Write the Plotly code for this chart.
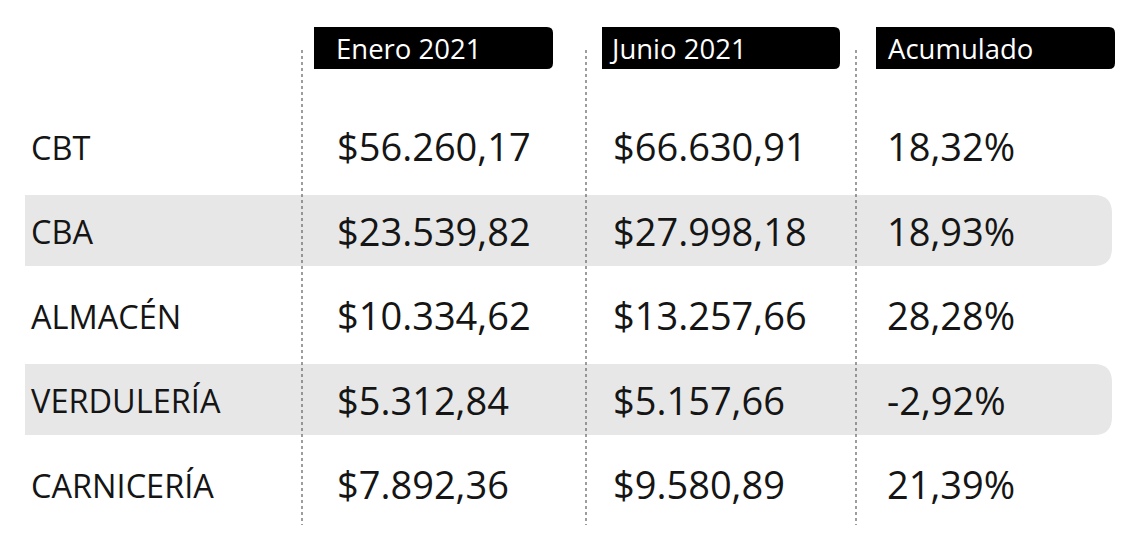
import plotly.graph_objects as go

# ---- data ----
categories = ["CBT", "CBA", "ALMACÉN", "VERDULERÍA", "CARNICERÍA"]
enero_2021 = [56260.17, 23539.82, 10334.62, 5312.84, 7892.36]
junio_2021 = [66630.91, 27998.18, 13257.66, 5157.66, 9580.89]
acumulado_pct = [18.32, 18.93, 28.28, -2.92, 21.39]
headers = ["Enero 2021", "Junio 2021", "Acumulado"]

# ---- layout constants ----
W, H = 1132, 552
PAGE_MARGIN = 8  # browser body margin
ROW0, ROW_STEP = 146, 84.5
LABEL_X = 29
COL_BOX = [(314, 553), (602, 840), (876, 1115)]
COL_TEXT_X = [335, 611, 885]
HEADER_TEXT_X = [334, 607, 886]
SEP_X = [302, 586, 856]
BAND_X = (25, 1112)
BAND_H = 71
HDR_Y = (27, 69)


def fmt_money(v):
    s = f"{v:,.2f}"
    s = s.replace(",", "X").replace(".", ",").replace("X", ".")
    return "$" + s


def fmt_pct(v):
    return f"{v:.2f}".replace(".", ",") + "%"


def right_round_rect(x0, y0, x1, y1, r):
    return (f"M {x0},{y0} L {x1 - r},{y0} Q {x1},{y0} {x1},{y0 + r} "
            f"L {x1},{y1 - r} Q {x1},{y1} {x1 - r},{y1} L {x0},{y1} Z")


row_y = [ROW0 + i * ROW_STEP for i in range(len(categories))]

shapes = []
for i, y in enumerate(row_y):
    if i % 2 == 1:
        shapes.append(dict(type="path", xref="x", yref="y",
                           path=right_round_rect(BAND_X[0], y - BAND_H / 2, BAND_X[1], y + BAND_H / 2, 18),
                           fillcolor="#e7e7e7", line=dict(width=0), layer="below"))
for (x0, x1) in COL_BOX:
    shapes.append(dict(type="path", xref="x", yref="y",
                       path=right_round_rect(x0, HDR_Y[0], x1, HDR_Y[1], 6),
                       fillcolor="#000000", line=dict(width=0), layer="below"))
for x in SEP_X:
    shapes.append(dict(type="line", xref="x", yref="y", x0=x, x1=x, y0=50, y1=525,
                       line=dict(color="#6a6a6a", width=1.3, dash="dot"), layer="above"))

annotations = []
FONT = "Open Sans"
for hx, h in zip(HEADER_TEXT_X, headers):
    annotations.append(dict(x=hx, y=(HDR_Y[0] + HDR_Y[1]) / 2, xref="x", yref="y", text=h,
                            showarrow=False, xanchor="left", yanchor="middle",
                            font=dict(family=FONT, size=27.5, color="#ffffff")))

cols = [[fmt_money(v) for v in enero_2021],
        [fmt_money(v) for v in junio_2021],
        [fmt_pct(v) for v in acumulado_pct]]

for i, (cat, y) in enumerate(zip(categories, row_y)):
    annotations.append(dict(x=LABEL_X, y=y + 1, xref="x", yref="y", text=cat,
                            showarrow=False, xanchor="left", yanchor="middle",
                            font=dict(family=FONT, size=32.5, color="#151515")))
    for cx, col in zip(COL_TEXT_X, cols):
        annotations.append(dict(x=cx, y=y, xref="x", yref="y", text=col[i],
                                showarrow=False, xanchor="left", yanchor="middle",
                                font=dict(family=FONT, size=38, color="#151515")))

fig = go.Figure()
fig.add_trace(go.Scatter(x=[0, W], y=[0, H], mode="markers",
                         marker=dict(opacity=0), hoverinfo="skip", showlegend=False))
fig.update_layout(
    width=W - PAGE_MARGIN, height=H - PAGE_MARGIN,
    margin=dict(l=0, r=0, t=0, b=0),
    paper_bgcolor="#ffffff", plot_bgcolor="#ffffff",
    xaxis=dict(range=[PAGE_MARGIN, W], visible=False, fixedrange=True),
    yaxis=dict(range=[H, PAGE_MARGIN], visible=False, fixedrange=True),
    shapes=shapes, annotations=annotations, showlegend=False,
)
fig.write_html("out.html", config={"displayModeBar": False})
